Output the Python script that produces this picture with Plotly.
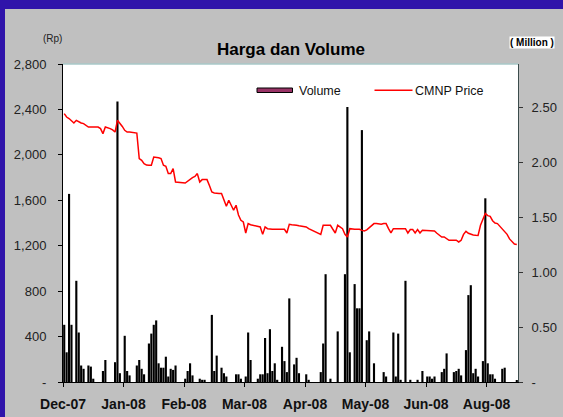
import plotly.graph_objects as go

# ---------------- data ----------------
months = ["Dec-07", "Jan-08", "Feb-08", "Mar-08", "Apr-08", "May-08", "Jun-08", "Aug-08"]
days_per_label = 25

price_ticks = [0, 400, 800, 1200, 1600, 2000, 2400, 2800]
price_labels = ["-", "400", "800", "1,200", "1,600", "2,000", "2,400", "2,800"]
volume_ticks = [0, 0.5, 1.0, 1.5, 2.0, 2.5]
volume_labels = ["-", "0.50", "1.00", "1.50", "2.00", "2.50"]

# daily volume (million shares)
volume = [
    0.52, 0.27, 1.71, 0.52, 0, 0.92, 0.45, 0.15, 0.12, 0,
    0.15, 0.14, 0.03, 0, 0, 0, 0.10, 0.20, 0, 0,
    0, 0.18, 2.55, 0.08, 0, 0.42, 0.10, 0.06, 0, 0,
    0.15, 0.20, 0.12, 0.07, 0, 0.35, 0.44, 0.52, 0.56, 0.17,
    0.13, 0.13, 0.23, 0.05, 0.12, 0.11, 0.15, 0, 0, 0,
    0.03, 0.10, 0.17, 0.06, 0, 0, 0.03, 0.02, 0.02, 0,
    0, 0.61, 0.10, 0.24, 0, 0.13, 0.08, 0.05, 0, 0,
    0, 0.07, 0.07, 0.03, 0, 0.05, 0.45, 0.20, 0, 0,
    0.03, 0.07, 0.07, 0.40, 0.08, 0.48, 0.10, 0.17, 0.02, 0,
    0.32, 0.19, 0.09, 0.76, 0, 0.16, 0.22, 0.08, 0, 0,
    0.07, 0.02, 0, 0, 0, 0, 0.09, 0.35, 0.98, 0,
    0.03, 0, 0, 0.46, 0, 0, 0.98, 2.50, 0.27, 0,
    0.89, 0.67, 0.67, 2.29, 0, 0.38, 0.46, 0, 0.17, 0,
    0, 0, 0.09, 0.05, 0, 0, 0.45, 0.05, 0.44, 0.02,
    0, 0.92, 0, 0.02, 0, 0, 0.02, 0, 0.10, 0,
    0.05, 0.05, 0.03, 0.05, 0, 0, 0.09, 0.12, 0.26, 0,
    0, 0.09, 0.10, 0.12, 0.06, 0, 0.29, 0.79, 0.88, 0.08,
    0.12, 0.05, 0, 0.19, 1.67, 0.17, 0.07, 0.07, 0.03, 0,
    0, 0.12, 0.13, 0, 0, 0, 0, 0.01,
]

# daily CMNP closing price (Rp)
price = [
    2363, 2333, 2320, 2300, 2281, 2304, 2290, 2281, 2275, 2260,
    2245, 2245, 2245, 2245, 2245, 2231, 2187, 2245, 2240, 2231,
    2220, 2201, 2304, 2281, 2250, 2216, 2201, 2201, 2198, 2195,
    2192, 1967, 1952, 1923, 1910, 1908, 1908, 1981, 1981, 1975,
    1967, 1908, 1899, 1835, 1835, 1879, 1761, 1761, 1760, 1755,
    1752, 1770, 1782, 1799, 1810, 1835, 1761, 1782, 1782, 1782,
    1730, 1673, 1665, 1659, 1659, 1659, 1600, 1547, 1600, 1556,
    1512, 1556, 1470, 1424, 1409, 1312, 1395, 1385, 1380, 1375,
    1370, 1365, 1300, 1365, 1350, 1344, 1344, 1344, 1344, 1344,
    1344, 1344, 1312, 1389, 1385, 1385, 1380, 1375, 1370, 1365,
    1365, 1350, 1340, 1336, 1320, 1310, 1300, 1380, 1380, 1380,
    1380, 1345, 1312, 1380, 1365, 1350, 1300, 1277, 1350, 1344,
    1344, 1344, 1344, 1335, 1330, 1340, 1360, 1380, 1395, 1395,
    1389, 1389, 1395, 1395, 1350, 1312, 1350, 1350, 1350, 1350,
    1350, 1350, 1312, 1342, 1342, 1312, 1342, 1312, 1336, 1336,
    1334, 1332, 1330, 1330, 1310, 1292, 1277, 1277, 1260, 1248,
    1248, 1248, 1248, 1233, 1248, 1300, 1327, 1310, 1300, 1295,
    1292, 1290, 1380, 1440, 1483, 1465, 1459, 1420, 1400, 1395,
    1370, 1350, 1330, 1300, 1260, 1233, 1215, 1210,
]

# ---------------- layout helpers ----------------
W, H = 563, 417
L, R, T, B = 63, 45, 64, 35
PW, PH = W - L - R, H - T - B
FONT = "Liberation Sans, Arial, sans-serif"
FRAME = "#3014AA"


def px(x):
    return (x - L) / PW


def py(y):
    return (H - B - y) / PH


days = list(range(len(volume)))
n = len(days)

fig = go.Figure()
fig.add_trace(go.Bar(
    x=days, y=volume, name="Volume", yaxis="y",
    marker=dict(color="#000000", line=dict(width=0)),
    showlegend=False,
))
fig.add_trace(go.Scatter(
    x=days, y=price, name="CMNP Price", yaxis="y2", mode="lines",
    line=dict(color="#FF0000", width=1.5),
    showlegend=False,
))

shapes = [
    # blue frame (left and top)
    dict(type="rect", xref="paper", yref="paper", x0=px(0), x1=px(5), y0=py(H), y1=py(0),
         fillcolor=FRAME, line=dict(width=0), layer="below"),
    dict(type="rect", xref="paper", yref="paper", x0=px(0), x1=px(W), y0=py(9), y1=py(0),
         fillcolor=FRAME, line=dict(width=0), layer="below"),
    # light top border of plot area
    dict(type="line", xref="paper", yref="paper", x0=0, x1=1, y0=1, y1=1,
         line=dict(color="#A8C8C8", width=1.5)),
    # legend keys
    dict(type="rect", xref="paper", yref="paper", x0=px(257), x1=px(292.5), y0=py(92.5), y1=py(88),
         fillcolor="#993366", line=dict(color="#000000", width=1)),
    dict(type="line", xref="paper", yref="paper", x0=px(374.5), x1=px(412.5), y0=py(90.3), y1=py(90.3),
         line=dict(color="#FF0000", width=1.5)),
]

annotations = [
    dict(text="(Rp)", xref="paper", yref="paper", x=px(52), y=py(38), showarrow=False,
         xanchor="center", yanchor="middle", font=dict(family=FONT, size=10, color="#222222")),
    dict(text="( Million )", xref="paper", yref="paper", x=px(509), y=py(42), showarrow=False,
         xanchor="left", yanchor="middle", bgcolor="#FFFFFF", borderpad=0,
         font=dict(family=FONT, size=10, color="#000000", weight="bold")),
    dict(text="Volume", xref="paper", yref="paper", x=px(296.5), y=py(90.5), showarrow=False,
         xanchor="left", yanchor="middle", font=dict(family=FONT, size=12.5, color="#111111")),
    dict(text="CMNP Price", xref="paper", yref="paper", x=px(413), y=py(90.5), showarrow=False,
         xanchor="left", yanchor="middle", font=dict(family=FONT, size=12.5, color="#111111")),
]

fig.update_layout(
    width=W, height=H,
    autosize=False,
    margin=dict(l=L, r=R, t=T, b=B, pad=0, autoexpand=False),
    paper_bgcolor="#C0C0C0",
    plot_bgcolor="#FFFFFF",
    font=dict(family=FONT, color="#222222"),
    bargap=0.12,
    title=dict(text="Harga dan Volume", xref="container", yref="container",
               x=291 / W, y=1 - 49 / H, xanchor="center", yanchor="middle",
               font=dict(family=FONT, size=17, color="#000000", weight="bold")),
    xaxis=dict(
        range=[-0.5, n - 0.5],
        automargin=False,
        tickmode="array",
        tickvals=[-0.5 + days_per_label * k for k in range(len(months))],
        ticktext=months,
        ticks="outside", ticklen=4, tickcolor="#000000",
        showline=True, linecolor="#000000", linewidth=1,
        showgrid=False, zeroline=False,
        ticklabelstandoff=5,
        tickfont=dict(family=FONT, size=14, color="#111111", weight="bold"),
    ),
    yaxis=dict(
        side="right",
        automargin=False,
        range=[0, PH / 110],
        tickmode="array", tickvals=volume_ticks, ticktext=volume_labels,
        ticks="outside", ticklen=4, tickcolor="#333333",
        showline=True, linecolor="#3C4C4C", linewidth=1,
        showgrid=False, zeroline=False,
        ticklabelstandoff=6,
        tickfont=dict(family=FONT, size=13, color="#222222"),
    ),
    yaxis2=dict(
        overlaying="y", side="left",
        automargin=False,
        range=[0, 2800],
        tickmode="array", tickvals=price_ticks, ticktext=price_labels,
        ticks="outside", ticklen=4, tickcolor="#000000",
        showline=True, linecolor="#000000", linewidth=1,
        showgrid=False, zeroline=False,
        ticklabelstandoff=9,
        tickfont=dict(family=FONT, size=13, color="#222222"),
    ),
    shapes=shapes,
    annotations=annotations,
)

fig.write_html(
    "out.html",
    config={"responsive": False, "displayModeBar": False},
    post_script="document.body.style.margin='0';document.body.style.padding='0';"
                "document.body.style.overflow='hidden';document.body.style.background='#C0C0C0';",
)
